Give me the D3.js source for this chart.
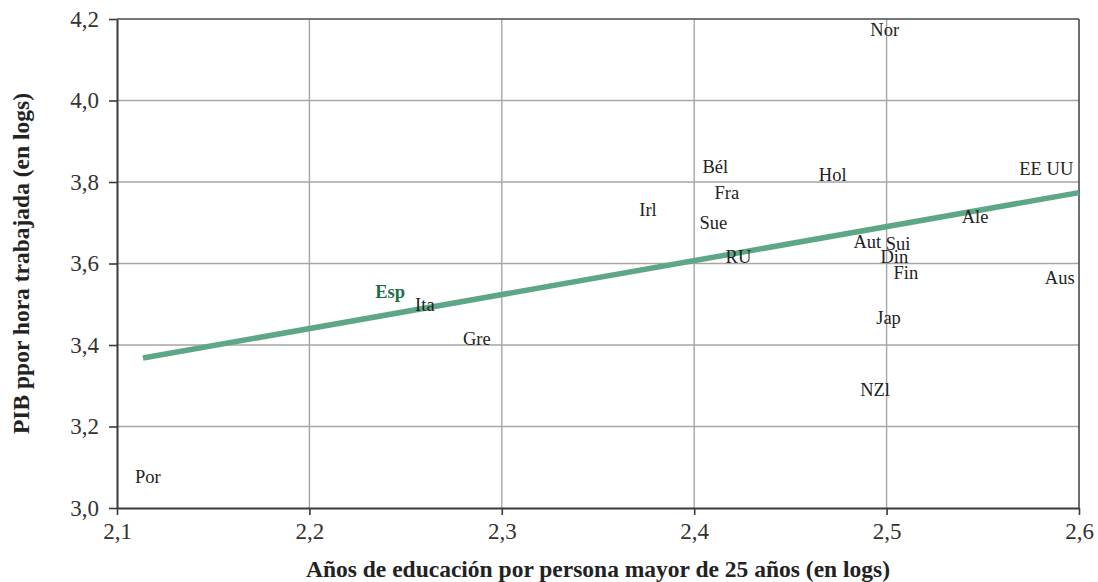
<!DOCTYPE html>
<html>
<head>
<meta charset="utf-8">
<script src="https://cdn.jsdelivr.net/npm/d3@7"></script>
<style>
  html, body { margin: 0; padding: 0; background: #fff; }
  svg { display: block; }
  text { font-family: "Liberation Serif", "DejaVu Serif", serif; }
</style>
</head>
<body>
<svg id="chart" width="1098" height="582"></svg>
<script>
// Country codes and their (education, GDP per hour) in logs
const countries = ["Nor", "Bél", "Hol", "EE UU", "Fra", "Irl", "Sue", "Ale", "Aut", "Sui",
                   "Din", "RU", "Fin", "Aus", "Esp", "Ita", "Gre", "Jap", "NZl", "Por"];
const education = [2.499, 2.411, 2.472, 2.583, 2.417, 2.376, 2.410, 2.546, 2.490, 2.506,
                   2.504, 2.423, 2.510, 2.590, 2.242, 2.260, 2.287, 2.501, 2.494, 2.116];
const gdpHour  = [4.173, 3.837, 3.817, 3.832, 3.773, 3.731, 3.699, 3.714, 3.653, 3.648,
                   3.616, 3.616, 3.577, 3.564, 3.530, 3.498, 3.415, 3.466, 3.290, 3.076];

// Fitted trend line end points
const trendX = [2.1135, 2.6];
const trendY = [3.368, 3.774];

const xTicks = [2.1, 2.2, 2.3, 2.4, 2.5, 2.6];
const yTicks = [3.0, 3.2, 3.4, 3.6, 3.8, 4.0, 4.2];

const highlight = "Esp";

const svg = d3.select("#chart");
const margin = { left: 117, right: 19, top: 19, bottom: 74 };
const W = 1098, H = 582;

const x = d3.scaleLinear().domain([2.1, 2.6]).range([margin.left, W - margin.right]);
const y = d3.scaleLinear().domain([3.0, 4.2]).range([H - margin.bottom, margin.top]);

const fmt = d => d3.format(".1f")(d).replace(".", ",");

// Gridlines
const grid = svg.append("g");
grid.selectAll("line.v").data(xTicks.slice(1, -1)).join("line")
  .attr("x1", d => x(d)).attr("x2", d => x(d))
  .attr("y1", y(3.0)).attr("y2", y(4.2))
  .attr("stroke", "#a6a6a6").attr("stroke-width", 1.4);
grid.selectAll("line.h").data(yTicks.slice(1, -1)).join("line")
  .attr("x1", x(2.1)).attr("x2", x(2.6))
  .attr("y1", d => y(d)).attr("y2", d => y(d))
  .attr("stroke", "#a6a6a6").attr("stroke-width", 1.4);

// Frame: top and right
svg.append("line").attr("x1", x(2.1)).attr("x2", x(2.6)).attr("y1", y(4.2)).attr("y2", y(4.2))
  .attr("stroke", "#4a4a4a").attr("stroke-width", 1.6);
svg.append("line").attr("x1", x(2.6)).attr("x2", x(2.6)).attr("y1", y(4.2)).attr("y2", y(3.0))
  .attr("stroke", "#4a4a4a").attr("stroke-width", 1.6);

// Axes
const xAxis = svg.append("g")
  .attr("transform", `translate(0,${y(3.0)})`)
  .call(d3.axisBottom(x).tickValues(xTicks).tickFormat(fmt).tickSizeOuter(0).tickSizeInner(7).tickPadding(8));
const yAxis = svg.append("g")
  .attr("transform", `translate(${x(2.1)},0)`)
  .call(d3.axisLeft(y).tickValues(yTicks).tickFormat(fmt).tickSizeOuter(0).tickSizeInner(8).tickPadding(10));

[xAxis, yAxis].forEach(a => {
  a.attr("font-family", null).attr("font-size", null);
  a.select(".domain").attr("stroke", "#3a3a3a").attr("stroke-width", 2);
  a.selectAll(".tick line").attr("stroke", "#3a3a3a").attr("stroke-width", 1.6);
  a.selectAll(".tick text").attr("fill", "#333")
    .style("font-family", "'Liberation Serif', serif").style("font-size", "23px");
});

// Trend line
svg.append("path")
  .datum(trendX.map((d, i) => [d, trendY[i]]))
  .attr("d", d3.line().x(d => x(d[0])).y(d => y(d[1])))
  .attr("fill", "none").attr("stroke", "#5ea786").attr("stroke-width", 5.5);

// Country labels
svg.append("g").selectAll("text").data(countries).join("text")
  .attr("x", (d, i) => x(education[i]))
  .attr("y", (d, i) => y(gdpHour[i]))
  .attr("text-anchor", "middle")
  .attr("dominant-baseline", "central")
  .attr("fill", d => d === highlight ? "#1d6e4a" : "#222")
  .attr("font-weight", d => d === highlight ? "bold" : "normal")
  .style("font-size", "18.5px")
  .text(d => d);

// Axis titles
svg.append("text")
  .attr("x", (x(2.1) + x(2.6)) / 2)
  .attr("y", 577)
  .attr("text-anchor", "middle")
  .attr("font-weight", "bold")
  .attr("fill", "#222")
  .style("font-size", "23.5px")
  .text("Años de educación por persona mayor de 25 años (en logs)");

svg.append("text")
  .attr("transform", `translate(29,${(y(3.0) + y(4.2)) / 2}) rotate(-90)`)
  .attr("text-anchor", "middle")
  .attr("font-weight", "bold")
  .attr("fill", "#222")
  .style("font-size", "23.5px")
  .text("PIB ppor hora trabajada (en logs)");
</script>
</body>
</html>
